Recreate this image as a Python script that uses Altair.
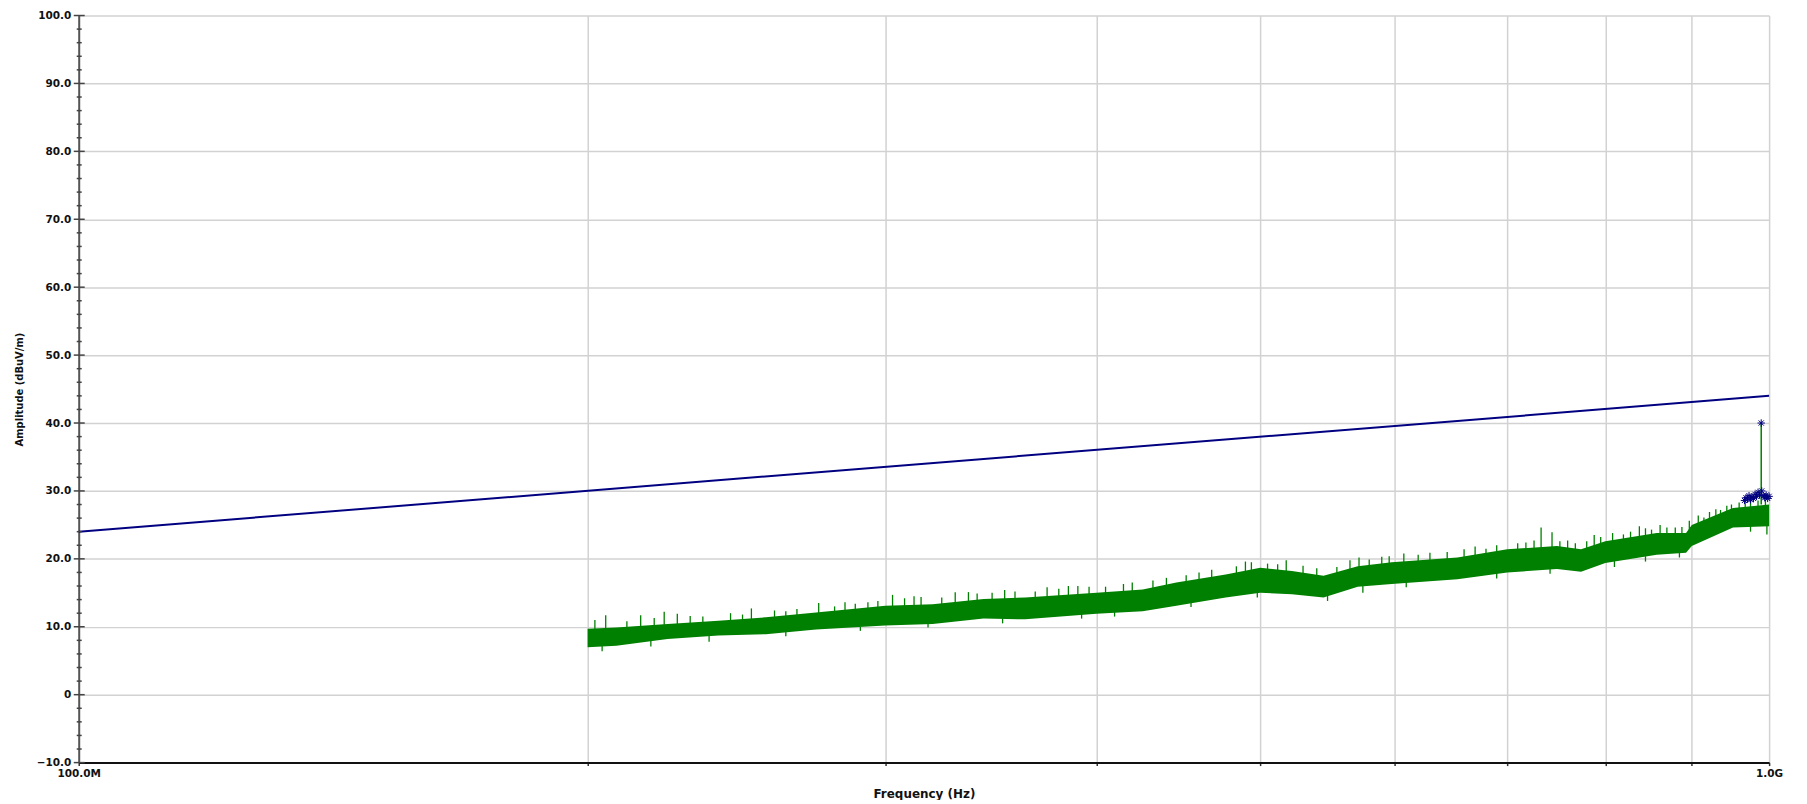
import altair as alt
import pandas as pd

# ---- data (frequency in MHz, amplitude in dBuV/m) ----
limit_freq = [100, 1000]
limit_amp = [24.0, 44.0]

env_freq = [200, 208, 223, 239, 255, 273, 300, 320, 343, 363, 400, 426, 446, 477,
            500, 522, 545, 571, 598, 654, 700, 749, 774, 800, 858, 893, 900, 952, 1000]
env_low = [7.0, 7.2, 8.2, 8.7, 8.9, 9.6, 10.2, 10.4, 11.2, 11.1, 11.9, 12.3, 13.1, 14.3,
           15.0, 14.8, 14.3, 15.9, 16.3, 17.0, 18.0, 18.5, 18.1, 19.4, 20.6, 20.9, 21.9, 24.6, 24.8]
env_high = [9.7, 9.9, 10.4, 10.9, 11.4, 12.1, 13.1, 13.3, 14.1, 14.3, 15.0, 15.5, 16.5, 17.7,
            18.7, 18.2, 17.5, 18.9, 19.5, 20.2, 21.4, 21.9, 21.4, 22.6, 23.8, 23.8, 25.0, 27.5, 28.0]

# upward spikes on the top edge of the trace: (freq, from, to)
up_freq = [202, 205, 211, 215, 219, 222, 226, 230, 234, 243, 247, 250, 258, 262, 266, 274,
           280, 284, 288, 293, 297, 303, 308, 312, 315, 324, 330, 336, 340, 347, 353, 358,
           368, 374, 380, 385, 390, 396, 405, 415, 420, 432, 440, 452, 460, 468, 484, 490,
           494, 505, 512, 518, 530, 540, 555, 565, 572, 580, 590, 596, 608, 620, 630, 645,
           660, 670, 680, 690, 710, 718, 726, 733, 744, 752, 760, 768, 780, 788, 795, 808,
           820, 828, 838, 845, 852, 862, 870, 880, 888, 897, 908, 915, 922, 930, 936, 944,
           950, 960, 968, 975, 985, 995]
up_from = [9.5, 9.0, 9.6, 9.2, 10.0, 9.6, 10.2, 10.0, 10.5, 10.7, 10.9, 10.6, 11.2, 11.0, 11.6, 11.4,
           12.0, 12.1, 12.0, 12.5, 12.7, 12.4, 13.0, 13.0, 12.6, 13.3, 13.0, 13.2, 13.6, 13.8, 13.4, 13.9,
           14.2, 13.8, 14.4, 14.5, 14.2, 14.7, 14.8, 14.6, 15.1, 15.5, 15.4, 16.3, 16.4, 17.0, 17.8, 18.0,
           17.6, 18.2, 17.4, 18.0, 17.0, 17.4, 17.6, 18.2, 17.8, 18.8, 18.6, 19.0, 19.4, 19.0, 19.6, 19.8,
           19.4, 20.4, 19.8, 20.8, 20.4, 21.2, 21.2, 20.6, 20.8, 21.4, 20.6, 21.0, 21.2, 21.2, 22.0, 22.4,
           22.0, 22.8, 23.0, 22.6, 23.4, 23.5, 22.8, 23.5, 23.5, 24.2, 25.0, 24.0, 25.6, 26.0, 25.0, 26.6,
           27.0, 26.2, 27.2, 26.6, 27.4, 27.6]
up_to = [11.0, 11.7, 10.8, 11.7, 11.3, 12.2, 11.9, 11.6, 11.5, 12.0, 11.8, 12.7, 12.4, 12.3, 12.6, 13.5,
         13.0, 13.6, 13.4, 13.6, 13.8, 14.7, 14.2, 14.5, 14.4, 14.3, 15.1, 15.1, 14.9, 15.0, 15.4, 15.2,
         15.2, 15.8, 15.6, 16.0, 16.0, 15.9, 15.9, 16.3, 16.5, 16.8, 17.2, 17.6, 18.0, 18.4, 18.9, 19.6,
         19.5, 19.3, 19.2, 19.8, 19.0, 18.6, 18.8, 19.8, 20.2, 19.9, 20.3, 20.4, 20.8, 20.6, 20.9, 21.0,
         21.4, 21.8, 21.5, 22.0, 22.3, 22.4, 22.7, 24.6, 23.9, 22.6, 22.7, 22.3, 22.6, 23.5, 23.2, 23.8,
         23.6, 24.0, 24.8, 24.5, 24.3, 25.0, 24.6, 24.6, 24.7, 25.6, 26.4, 26.1, 26.9, 27.3, 27.2, 27.8,
         28.0, 28.3, 28.4, 28.6, 28.6, 28.8]

# downward spikes on the bottom edge of the trace: (freq, from, to)
down_freq = [204, 218, 236, 262, 290, 318, 352, 392, 410, 455, 498, 548, 575, 610, 690, 742,
             810, 845, 885, 975, 997]
down_from = [7.6, 8.0, 8.8, 9.4, 10.0, 10.6, 11.4, 12.0, 12.3, 13.6, 15.2, 14.6, 16.2, 16.6, 18.0, 18.6,
             19.8, 20.4, 21.0, 25.0, 25.2]
down_to = [6.4, 7.1, 7.8, 8.6, 9.4, 9.9, 10.5, 11.2, 11.5, 12.9, 14.3, 13.8, 15.0, 15.8, 17.1, 17.8,
           18.8, 19.6, 20.2, 24.0, 23.6]

peak_freq = [989.3]
peak_base = [28.0]
peak_top = [40.0]

marker_freq = [967, 969, 971, 973, 975, 977, 979, 981, 983, 985, 987, 989.3, 990, 992, 994, 996, 998, 1000]
marker_amp = [28.6, 29.0, 28.8, 29.3, 28.7, 29.1, 28.9, 29.5, 29.2, 29.8, 29.4, 40.0, 30.0, 29.3, 29.0, 29.4, 28.9, 29.2]

x_ticks = [100, 200, 300, 400, 500, 600, 700, 800, 900, 1000]
x_tick_labels = {100: "100.0M", 1000: "1.0G"}
y_major = list(range(-10, 101, 10))
y_minor = [v for v in range(-10, 101, 2) if v % 10 != 0]

# ---- frames ----
limit_df = pd.DataFrame({"f": limit_freq, "a": limit_amp})
env_df = pd.DataFrame({"f": env_freq, "lo": env_low, "hi": env_high})
spike_df = pd.DataFrame({"f": up_freq + down_freq, "lo": up_from + down_from, "hi": up_to + down_to})
peak_df = pd.DataFrame({"f": peak_freq, "lo": peak_base, "hi": peak_top})
marker_df = pd.DataFrame({"f": marker_freq, "a": marker_amp})
major_df = pd.DataFrame({"v": y_major})
minor_df = pd.DataFrame({"v": y_minor})

FONT = "DejaVu Sans"
GRID = "#d2d2d2"

x_label_expr = " : ".join(
    [f"datum.value == {k} ? '{v}'" for k, v in x_tick_labels.items()]) + " : ''"
y_label_expr = "datum.value == 0 ? '0' : format(datum.value, '.1f')"

x_scale = alt.Scale(type="log", domain=[100, 1000], nice=False)
y_scale = alt.Scale(domain=[-10, 100], nice=False)

x_axis = alt.Axis(
    title="Frequency (Hz)", values=x_ticks, labelExpr=x_label_expr,
    grid=True, gridColor=GRID, gridWidth=1.5,
    domainColor="#111111", domainWidth=2,
    tickColor="#333333", tickSize=3, tickWidth=1.5,
    labelFont=FONT, labelFontSize=10.5, labelFontWeight="bold", labelColor="#111111",
    labelFlush=False, labelPadding=3, labelOverlap=False,
    titleFont=FONT, titleFontSize=12, titleFontWeight="bold", titleColor="#111111",
    titlePadding=10,
)
y_axis = alt.Axis(
    title="Amplitude (dBuV/m)", values=y_major, labelExpr=y_label_expr,
    grid=True, gridColor=GRID, gridWidth=1.5,
    ticks=False,
    domainColor="#555555", domainWidth=2,
    labelFont=FONT, labelFontSize=10.5, labelFontWeight="bold", labelColor="#111111",
    labelFlush=False, labelPadding=8, labelOverlap=False,
    titleFont=FONT, titleFontSize=10, titleFontWeight="bold", titleColor="#111111",
    titlePadding=12,
)

X = alt.X("f:Q", scale=x_scale, axis=x_axis)

band = alt.Chart(env_df).mark_area(color="#008000", opacity=1, interpolate="linear").encode(
    x=X, y=alt.Y("lo:Q", scale=y_scale, axis=y_axis), y2="hi:Q")

spikes = alt.Chart(spike_df).mark_rule(color="#008000", strokeWidth=1.3).encode(
    x="f:Q", y="lo:Q", y2="hi:Q")

peak = alt.Chart(peak_df).mark_rule(color="#008000", strokeWidth=1.5).encode(
    x="f:Q", y="lo:Q", y2="hi:Q")

limit = alt.Chart(limit_df).mark_line(color="#000080", strokeWidth=2).encode(
    x="f:Q", y="a:Q")

asterisk = "M-1,0L1,0M0,-1L0,1M-0.7,-0.7L0.7,0.7M-0.7,0.7L0.7,-0.7"
markers = alt.Chart(marker_df).mark_point(
    shape=asterisk, color="#000080", filled=False, strokeWidth=1, size=55, opacity=1
).encode(x="f:Q", y="a:Q")

major_ticks = alt.Chart(major_df).mark_rule(color="#444444", strokeWidth=1.5).encode(
    y="v:Q", x=alt.value(-5), x2=alt.value(6))
minor_ticks = alt.Chart(minor_df).mark_rule(color="#444444", strokeWidth=1.5).encode(
    y="v:Q", x=alt.value(-2), x2=alt.value(3))

chart = alt.layer(band, spikes, peak, limit, markers, major_ticks, minor_ticks).properties(
    width=1697, height=750,
    autosize=alt.AutoSizeParams(type="none"),
    padding={"left": 71, "top": 6, "right": 30, "bottom": 36},
    background="white",
).configure_view(strokeWidth=0)

chart.save("out.html", embed_options={"renderer": "svg", "actions": False})
